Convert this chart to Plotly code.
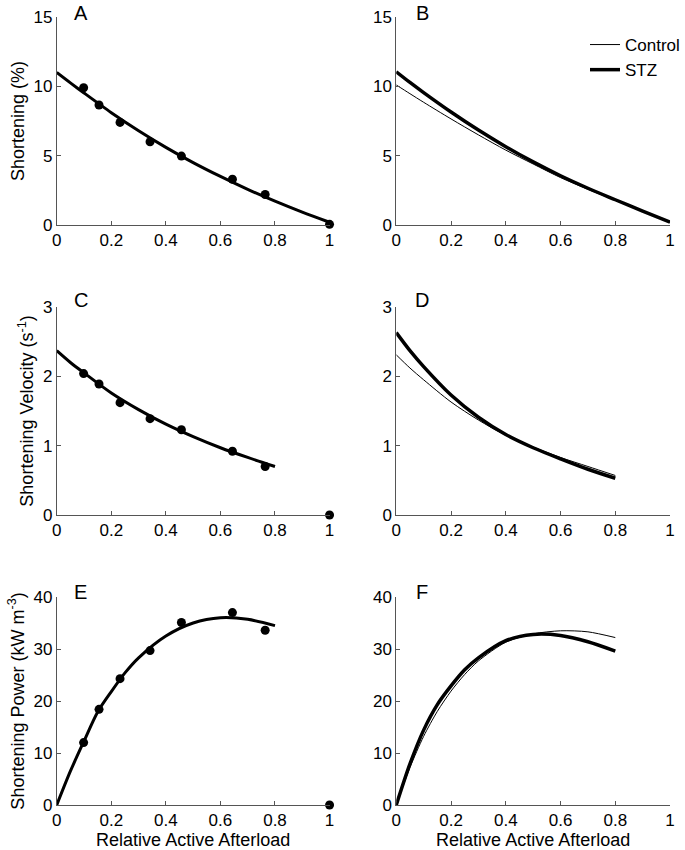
import plotly.graph_objects as go

# ---------------- data ----------------
# measured points (panels A, C, E)
pt_x = [0.0985, 0.155, 0.232, 0.342, 0.457, 0.644, 0.764, 1.0]
pt_short = [9.9, 8.65, 7.4, 6.0, 4.97, 3.3, 2.2, 0.05]
pt_vel = [2.04, 1.89, 1.62, 1.39, 1.23, 0.92, 0.70, 0.0]
pt_pow = [12.0, 18.4, 24.3, 29.7, 35.1, 37.0, 33.6, 0.0]

# fitted curves, full afterload range (A, B)
cx_full = [0, 0.05, 0.1, 0.2, 0.3, 0.4, 0.5, 0.6, 0.7, 0.8, 0.9, 1.0]
fit_short = [11.0, 10.25, 9.52, 8.1, 6.8, 5.6, 4.5, 3.5, 2.57, 1.72, 0.93, 0.2]
stz_short = [11.05, 10.28, 9.55, 8.15, 6.85, 5.65, 4.55, 3.55, 2.65, 1.82, 1.0, 0.2]
ctl_short = [10.1, 9.47, 8.85, 7.65, 6.5, 5.4, 4.4, 3.42, 2.57, 1.78, 0.98, 0.2]

# fitted velocity curves up to 0.8 (C, D)
cx_vel = [0, 0.05, 0.1, 0.2, 0.3, 0.4, 0.5, 0.6, 0.7, 0.8]
fit_vel = [2.37, 2.2, 2.05, 1.76, 1.52, 1.31, 1.13, 0.97, 0.83, 0.70]
stz_vel = [2.63, 2.37, 2.14, 1.73, 1.41, 1.16, 0.97, 0.81, 0.66, 0.53]
ctl_vel = [2.31, 2.12, 1.95, 1.63, 1.37, 1.15, 0.98, 0.83, 0.70, 0.57]

# fitted power curves up to 0.8 (E, F)
cx_pow = [0, 0.05, 0.1, 0.15, 0.2, 0.25, 0.3, 0.4, 0.5, 0.6, 0.7, 0.8]
fit_pow = [0, 6.5, 12.3, 17.9, 21.8, 25.4, 28.3, 32.5, 35.0, 36.0, 35.7, 34.5]
stz_pow = [0, 7.9, 14.4, 19.3, 22.9, 26.0, 28.3, 31.6, 32.8, 32.6, 31.4, 29.6]
ctl_pow = [0, 7.2, 13.2, 18.0, 21.9, 25.1, 27.7, 31.3, 32.9, 33.5, 33.3, 32.2]

x_ticks = [0, 0.2, 0.4, 0.6, 0.8, 1.0]
panel_letters = ["A", "B", "C", "D", "E", "F"]
y_titles = ["Shortening (%)", "Shortening Velocity (s<sup>-1</sup>)",
            "Shortening Power (kW m<sup>-3</sup>)"]
x_title = "Relative Active Afterload"

# ---------------- figure ----------------
W, H = 685, 850
FONT = "Arial, Liberation Sans, Helvetica, sans-serif"
AXC = "#555555"

fig = go.Figure()

def line(x, y, ax, w, name=None, show=False):
    fig.add_trace(go.Scatter(x=x, y=y, mode="lines", line=dict(color="black", width=w, shape="spline", smoothing=0.8),
                             xaxis="x" + ax, yaxis="y" + ax, name=name, showlegend=show, cliponaxis=False,
                             hoverinfo="skip"))

def pts(x, y, ax):
    fig.add_trace(go.Scatter(x=x, y=y, mode="markers", marker=dict(color="black", size=9),
                             xaxis="x" + ax, yaxis="y" + ax, showlegend=False, cliponaxis=False))

# A
line(cx_full, fit_short, "", 3)
pts(pt_x, pt_short, "")
# B
line(cx_full, ctl_short, "2", 1, "Control", True)
line(cx_full, stz_short, "2", 3.5, "STZ", True)
# C
line(cx_vel, fit_vel, "3", 3)
pts(pt_x, pt_vel, "3")
# D
line(cx_vel, ctl_vel, "4", 1)
line(cx_vel, stz_vel, "4", 3.5)
# E
line(cx_pow, fit_pow, "5", 3)
pts(pt_x, pt_pow, "5")
# F
line(cx_pow, ctl_pow, "6", 1)
line(cx_pow, stz_pow, "6", 3.5)

# domains (pixel positions converted to paper fractions)
xl = [57 / W, 331 / W]
xr = [398 / W, 673 / W]
rows = [[1 - 225 / H, 1 - 17 / H], [1 - 515 / H, 1 - 307 / H], [1 - 805 / H, 1 - 597 / H]]
yranges = [[0, 15], [0, 3], [0, 40]]
yticks = [[0, 5, 10, 15], [0, 1, 2, 3], [0, 10, 20, 30, 40]]

common = dict(showline=True, linecolor=AXC, linewidth=1, ticks="inside", ticklen=4, tickcolor=AXC,
              showgrid=False, zeroline=False, tickfont=dict(family=FONT, size=17, color="black"),
              automargin=False)

layout = {}
for i in range(6):
    r, c = divmod(i, 2)
    suf = "" if i == 0 else str(i + 1)
    xa = dict(common, domain=xl if c == 0 else xr, range=[0, 1], tickvals=x_ticks,
              anchor="y" + suf)
    if r == 2:
        xa["title"] = dict(text=x_title, font=dict(family=FONT, size=18, color="black"), standoff=2)
    ya = dict(common, domain=rows[r], range=yranges[r], tickvals=yticks[r], anchor="x" + suf)
    if c == 0:
        ya["title"] = dict(text=y_titles[r], font=dict(family=FONT, size=18, color="black"), standoff=4)
    layout["xaxis" + suf] = xa
    layout["yaxis" + suf] = ya

fig.update_layout(**layout)

# panel letters
letter_pos = [(81, 13), (424, 13), (81, 300), (424, 300), (81, 592), (424, 592)]
for L, (px, py) in zip(panel_letters, letter_pos):
    fig.add_annotation(text=L, x=px / W, y=1 - py / H, xref="paper", yref="paper", showarrow=False,
                       xanchor="center", yanchor="middle", font=dict(family=FONT, size=20, color="black"))

fig.update_layout(
    width=W, height=H, margin=dict(l=0, r=0, t=0, b=0),
    paper_bgcolor="white", plot_bgcolor="white",
    font=dict(family=FONT, color="black"),
    legend=dict(x=588 / W, y=1 - 27 / H, xanchor="left", yanchor="top", bgcolor="rgba(0,0,0,0)",
                font=dict(family=FONT, size=17, color="black"), itemwidth=30, tracegroupgap=0),
)

fig.write_html("out.html", config={"displayModeBar": False},
               post_script="document.body.style.margin='0';")
